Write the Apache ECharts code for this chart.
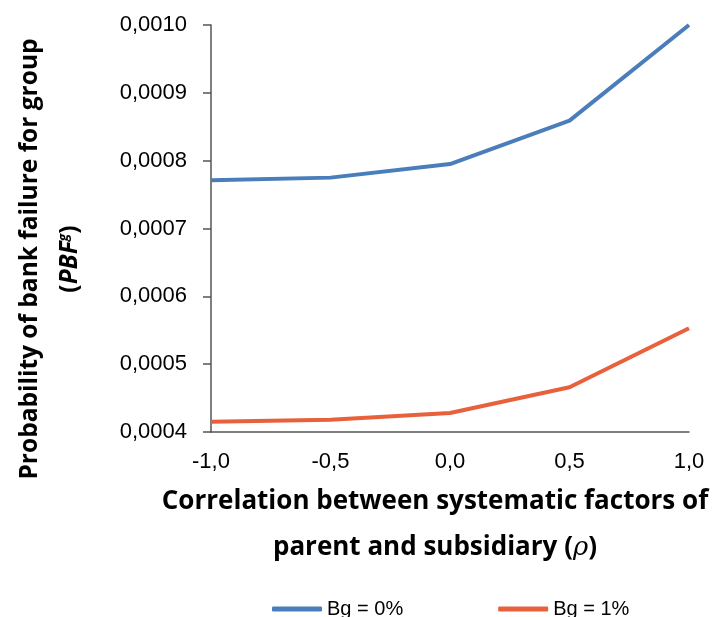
<!DOCTYPE html>
<html>
<head>
<meta charset="utf-8">
<script src="https://cdn.jsdelivr.net/npm/echarts@6/dist/echarts.min.js"></script>
<style>
  html, body { margin: 0; padding: 0; background: #fff; }
  #chart { width: 714px; height: 617px; }
</style>
</head>
<body>
<div id="chart"></div>
<script>
// correlation rho on the x axis
const rhoValues = [-1.0, -0.5, 0.0, 0.5, 1.0];
const seriesNames = ['Bg = 0%', 'Bg = 1%'];
const pbfBg0 = [0.000771, 0.000775, 0.000795, 0.000859, 0.001000];
const pbfBg1 = [0.000415, 0.000418, 0.000428, 0.000466, 0.000553];
const colors = ['#4a7ebb', '#e8603c'];

const comma = (v, d) => v.toFixed(d).replace('.', ',');
const toPairs = ys => rhoValues.map((x, i) => [x, ys[i]]);

const chart = echarts.init(document.getElementById('chart'));
const option = {
  animation: false,
  grid: { left: 211, right: 25, top: 25, bottom: 185 },
  legend: {
    left: 267,
    top: 594,
    itemWidth: 50,
    itemHeight: 5,
    itemGap: 95,
    icon: 'roundRect',
    textStyle: { fontFamily: 'Liberation Sans', fontSize: 20, color: '#000' },
    data: seriesNames
  },
  xAxis: {
    type: 'value',
    min: -1,
    max: 1,
    interval: 0.5,
    splitLine: { show: false },
    axisTick: { show: false },
    axisLine: { onZero: false, lineStyle: { color: '#555', width: 1.5 } },
    axisLabel: {
      margin: 19,
      fontFamily: 'Liberation Sans', fontSize: 22, color: '#000',
      formatter: v => comma(v, 1)
    }
  },
  yAxis: {
    type: 'value',
    min: 0.0004,
    max: 0.0010,
    interval: 0.0001,
    splitLine: { show: false },
    axisTick: { show: true, length: 8, lineStyle: { color: '#555', width: 1.5 } },
    axisLine: { show: true, onZero: false, lineStyle: { color: '#555', width: 1.5 } },
    axisLabel: {
      margin: 24,
      fontFamily: 'Liberation Sans', fontSize: 22, color: '#000',
      formatter: v => comma(v, 4)
    }
  },
  graphic: [
    {
      type: 'text',
      x: 30, y: 259,
      rotation: Math.PI / 2,
      style: {
        text: 'Probability of bank failure for group',
        font: 'bold 24.5px "Open Sans"',
        fill: '#000',
        align: 'center',
        verticalAlign: 'middle'
      }
    },
    {
      type: 'text',
      x: 70, y: 259,
      rotation: Math.PI / 2,
      style: {
        text: '{n|(}{i|PBF}{s|g}{n|)}',
        align: 'center',
        verticalAlign: 'middle',
        rich: {
          n: { font: 'bold 24.5px "Open Sans"', fill: '#000' },
          i: { font: 'italic bold 24.5px "Open Sans"', fill: '#000' },
          s: { font: 'italic bold 14px "Open Sans"', fill: '#000', verticalAlign: 'top', padding: [0, 0, 10, 0] }
        }
      }
    },
    {
      type: 'text',
      x: 435, y: 502,
      style: {
        text: 'Correlation between systematic factors of',
        font: 'bold 26px "Open Sans"',
        fill: '#000',
        align: 'center',
        verticalAlign: 'middle'
      }
    },
    {
      type: 'text',
      x: 435, y: 548,
      style: {
        text: '{b|parent and subsidiary (}{r|ρ}{b|)}',
        align: 'center',
        verticalAlign: 'middle',
        rich: {
          b: { font: 'bold 26px "Open Sans"', fill: '#000' },
          r: { font: 'italic 26px "DejaVu Serif"', fill: '#000' }
        }
      }
    }
  ],
  series: [
    {
      name: seriesNames[0],
      type: 'line',
      data: toPairs(pbfBg0),
      symbol: 'none',
      lineStyle: { width: 4, color: colors[0] },
      itemStyle: { color: colors[0] }
    },
    {
      name: seriesNames[1],
      type: 'line',
      data: toPairs(pbfBg1),
      symbol: 'none',
      lineStyle: { width: 4, color: colors[1] },
      itemStyle: { color: colors[1] }
    }
  ]
};
chart.setOption(option);
</script>
</body>
</html>
